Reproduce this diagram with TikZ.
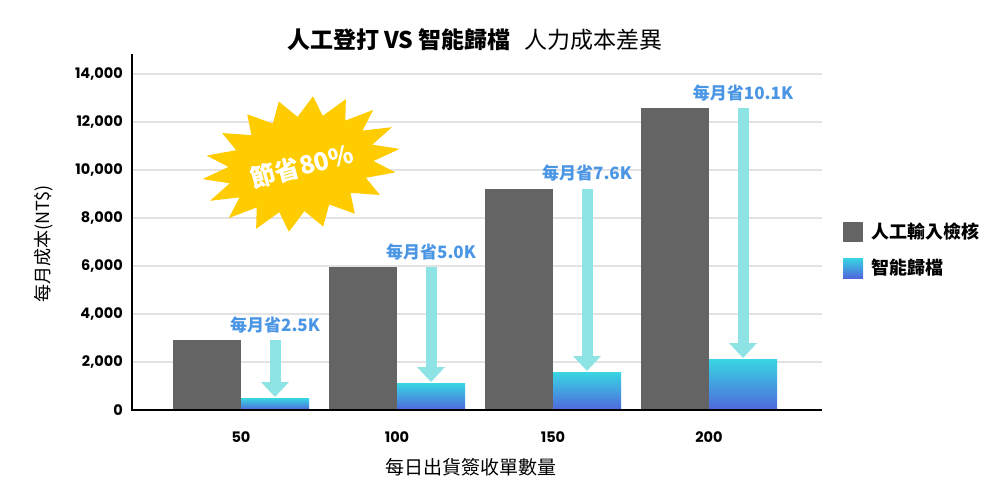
\documentclass[tikz,border=0pt]{standalone}
\usepackage{fontspec}
\setmainfont{Noto Sans CJK TC}
\newfontfamily\numfont{Poppins}
\usetikzlibrary{arrows.meta}
\definecolor{barGray}{HTML}{646464}
\definecolor{barTop}{HTML}{38D6E3}
\definecolor{barBot}{HTML}{5067DC}
\definecolor{arrowCyan}{HTML}{8EE3E5}
\definecolor{saveBlue}{HTML}{4A96E5}
\definecolor{gridGray}{HTML}{E3E3E3}
\definecolor{starYellow}{HTML}{FFCC00}
\tikzset{
  graybar/.style={fill=barGray,draw=none,minimum width=68pt,inner sep=0pt,anchor=south,outer sep=0pt},
  bluebar/.style={top color=barTop,bottom color=barBot,draw=none,minimum width=68pt,inner sep=0pt,anchor=south,outer sep=0pt},
  savearrow/.style={draw=arrowCyan,line width=11pt,-{Triangle[width=27pt,length=15pt]}},
  savelabel/.style={text=saveBlue,font=\fontsize{17}{19}\selectfont\bfseries,inner sep=0pt},
  ytick/.style={anchor=east,font=\numfont\bfseries\fontsize{14.5}{16}\selectfont,inner sep=0pt},
  xtick/.style={font=\numfont\bfseries\fontsize{14.5}{16}\selectfont,inner sep=0pt},
  gridline/.style={draw=gridGray,line width=2pt},
  axisline/.style={draw=black,line width=2pt},
  legendtext/.style={anchor=west,font=\fontsize{18}{20}\selectfont\bfseries,inner sep=0pt},
}
\begin{document}
\begin{tikzpicture}[x=1pt,y=-1pt]
\useasboundingbox (0,0) rectangle (1000,500);
\fill[white] (0,0) rectangle (1000,500);
% title
\node[font=\fontsize{23}{26}\selectfont] (title) at (475,40) {\textbf{人工登打 VS 智能歸檔}\hspace{14pt}人力成本差異};
% grid
\foreach \v/\lab in {74/{14,000},122/{12,000},170/{10,000},218/{8,000},266/{6,000},314/{4,000},362/{2,000}}{
  \draw[gridline] (133,\v) -- (822,\v);
  \node[ytick] at (123,\v) {\lab};
}
\node[ytick] (y0) at (123,410) {0};
% bars
\node[graybar,minimum height=70pt] (g50) at (207,410) {};
\node[bluebar,minimum height=12pt] (b50) at (275,410) {};
\node[graybar,minimum height=143pt] (g100) at (363,410) {};
\node[bluebar,minimum height=27pt] (b100) at (431,410) {};
\node[graybar,minimum height=221pt] (g150) at (519,410) {};
\node[bluebar,minimum height=38pt] (b150) at (587,410) {};
\node[graybar,minimum height=302pt] (g200) at (675,410) {};
\node[bluebar,minimum height=51pt] (b200) at (743,410) {};
% axes
\draw[axisline] (132,54) -- (132,411);
\draw[axisline] (131,410) -- (822,410);
% arrows
\foreach \n in {50,100,150,200}{
  \draw[savearrow] (b\n.north |- g\n.north) -- ([yshift=1pt]b\n.north);
}
% saving labels
\node[savelabel] (s50) at (275,325) {每月省2.5K};
\node[savelabel] (s100) at (431,252) {每月省5.0K};
\node[savelabel] (s150) at (587,173) {每月省7.6K};
\node[savelabel] (s200) at (743,93) {每月省10.1K};
% x ticks
\node[xtick] (x50) at (241,437) {50};
\node[xtick] (x100) at (397,437) {100};
\node[xtick] (x150) at (553,437) {150};
\node[xtick] (x200) at (709,437) {200};
% axis labels
\node[font=\fontsize{19}{21}\selectfont] (xlab) at (471,467) {每日出貨簽收單數量};
\node[font=\fontsize{18}{20}\selectfont,rotate=90] (ylab) at (44,244) {每月成本(NT\$)};
% legend
\fill[barGray] (843,222) rectangle (863,242);
\node[legendtext] (l1) at (871,232) {人工輸入檢核};
\shade[top color=barTop,bottom color=barBot] (843,258) rectangle (863,278);
\node[legendtext] (l2) at (871,268) {智能歸檔};
% starburst
\begin{scope}[shift={(301,164)},rotate=12]
\fill[starYellow] plot[variable=\t,samples at={0,...,35}]
  ({ifthenelse(mod(\t,2)==0,100,74)*cos(\t*10+5)},{ifthenelse(mod(\t,2)==0,66,47)*sin(\t*10+5)}) -- cycle;
\end{scope}
\node[text=white,font=\fontsize{25}{27}\selectfont\bfseries,rotate=15,inner sep=0pt] (burst) at (302,166) {節省80\%};
\end{tikzpicture}
\end{document}
